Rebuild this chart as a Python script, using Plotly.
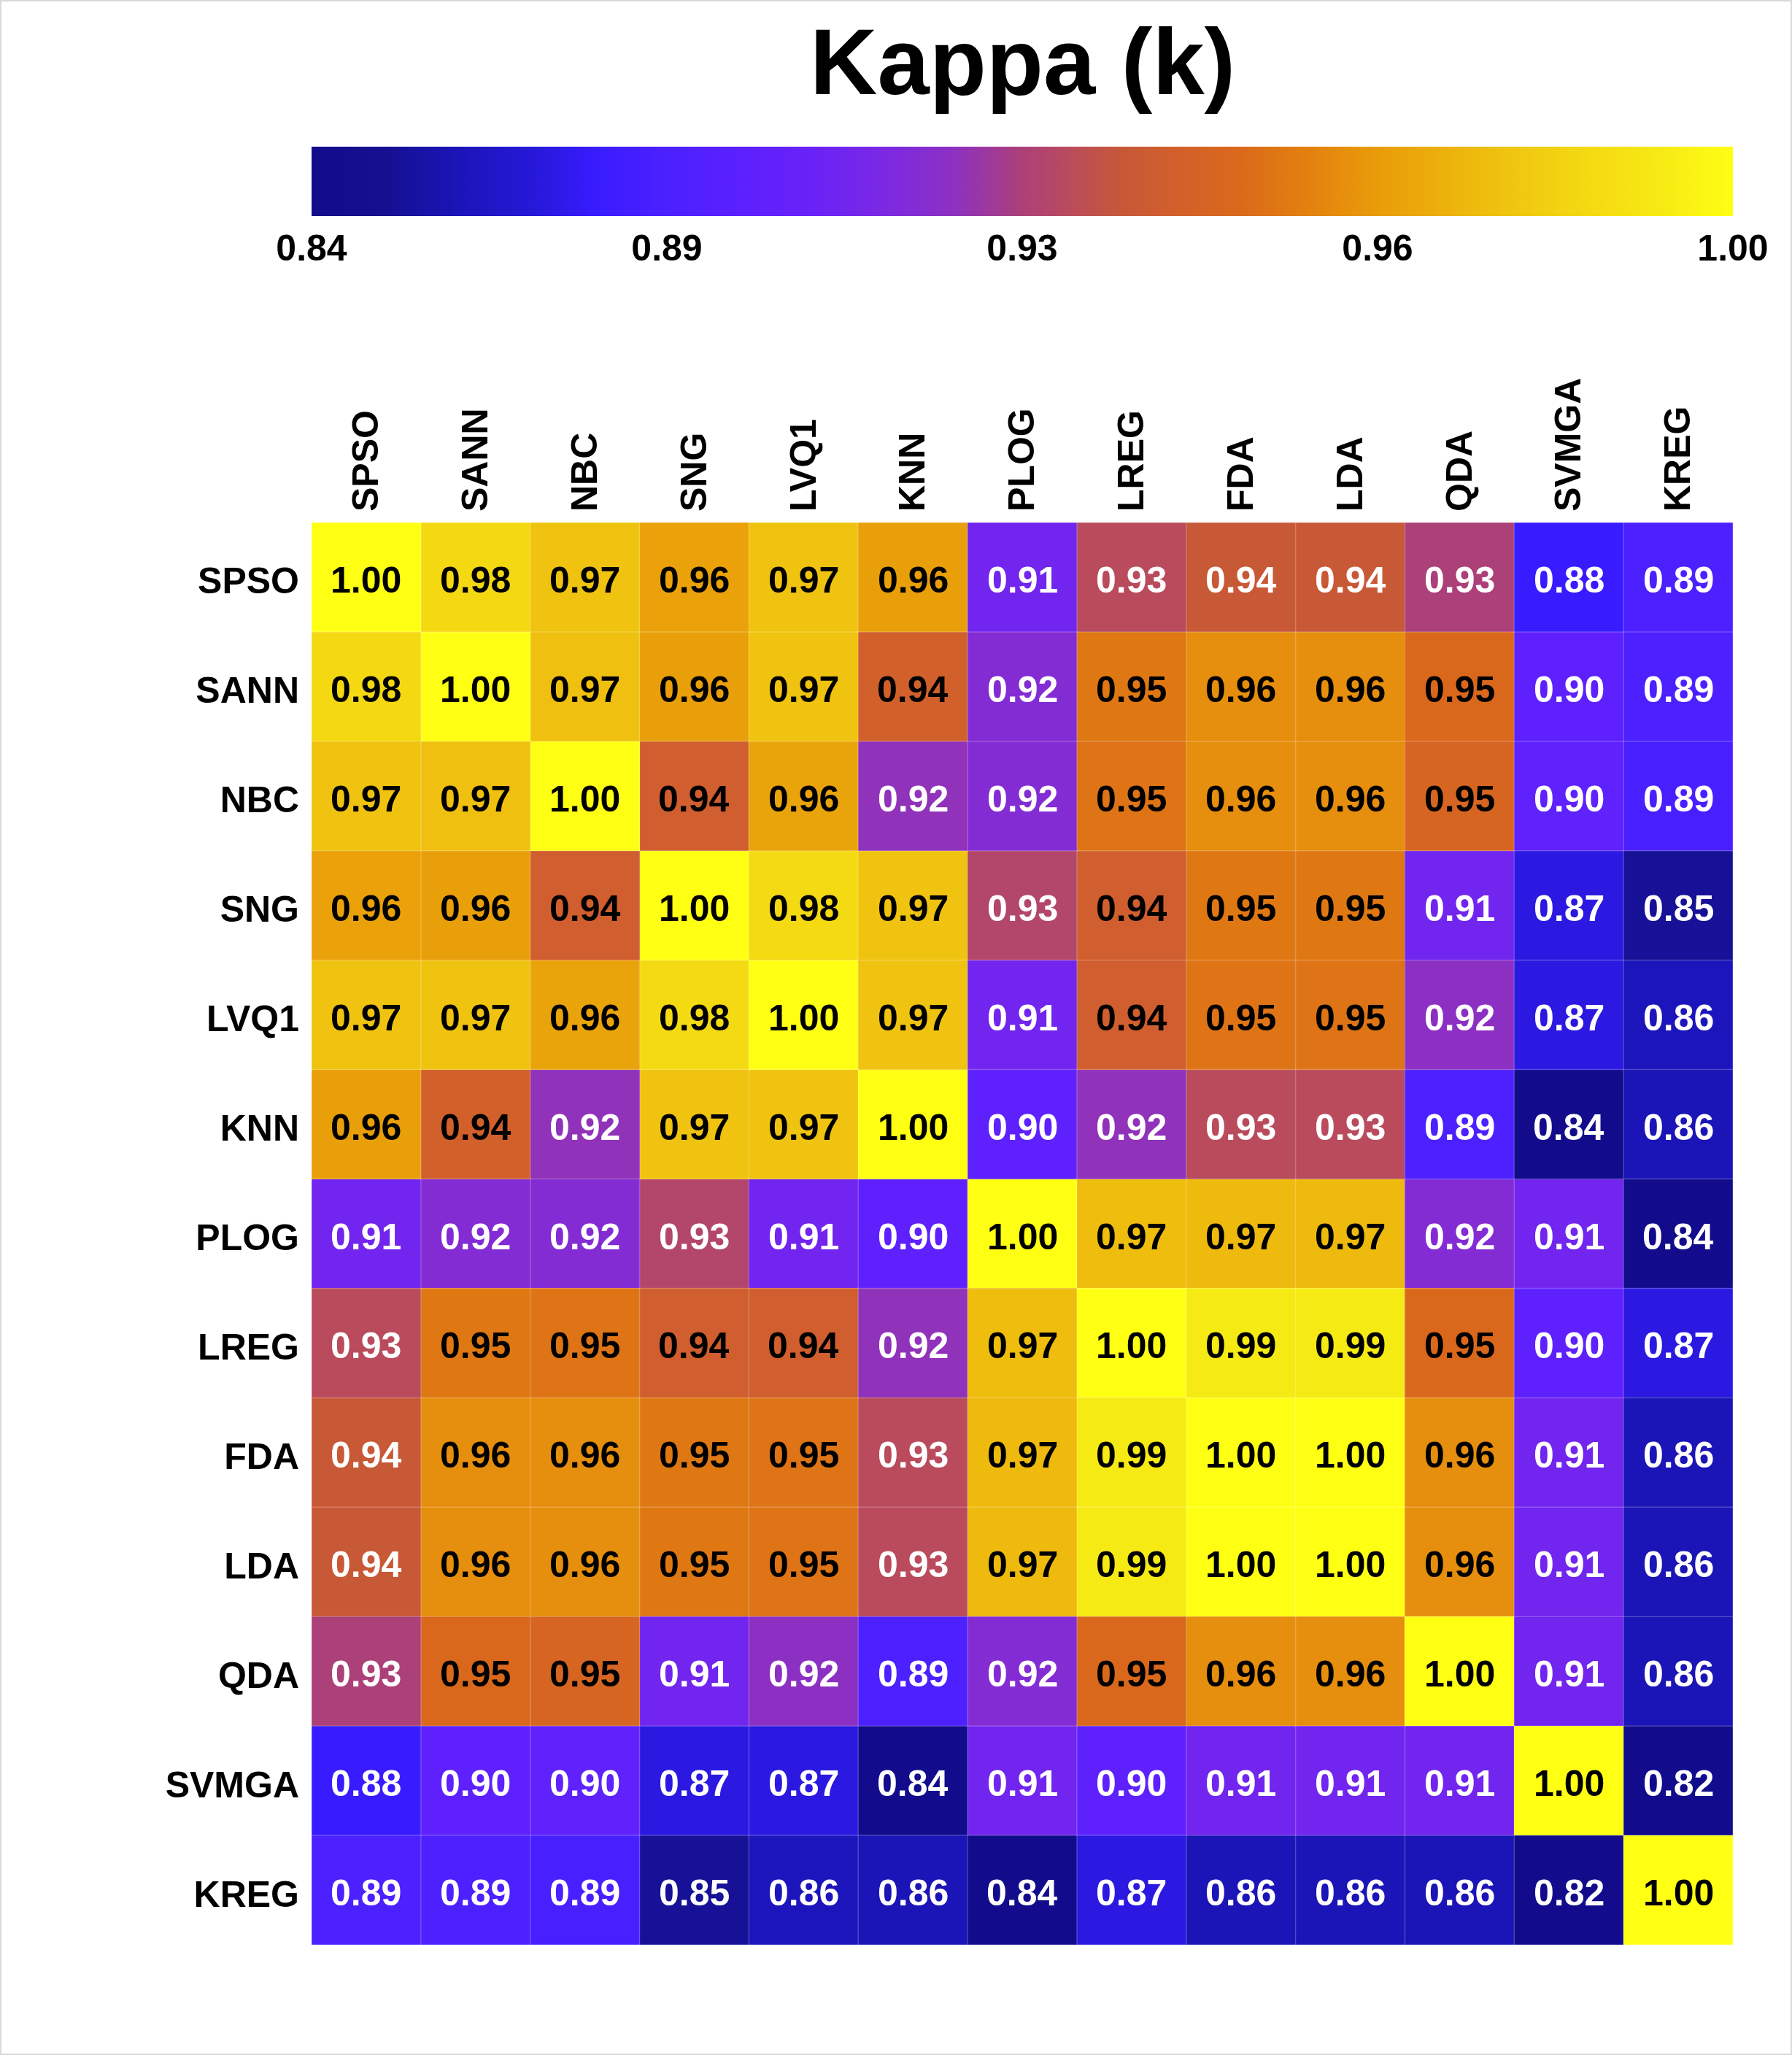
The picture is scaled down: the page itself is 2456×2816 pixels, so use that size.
import numpy as np
import plotly.graph_objects as go

# ---------------- data ----------------
models = ["SPSO", "SANN", "NBC", "SNG", "LVQ1", "KNN", "PLOG",
          "LREG", "FDA", "LDA", "QDA", "SVMGA", "KREG"]

row_SPSO  = [1.000, 0.983, 0.974, 0.962, 0.974, 0.961, 0.910, 0.934, 0.939, 0.939, 0.930, 0.880, 0.890]
row_SANN  = [0.983, 1.000, 0.973, 0.961, 0.974, 0.943, 0.918, 0.952, 0.957, 0.957, 0.948, 0.900, 0.890]
row_NBC   = [0.974, 0.973, 1.000, 0.942, 0.963, 0.923, 0.918, 0.951, 0.957, 0.957, 0.946, 0.901, 0.888]
row_SNG   = [0.962, 0.961, 0.942, 1.000, 0.984, 0.974, 0.932, 0.942, 0.952, 0.952, 0.910, 0.873, 0.852]
row_LVQ1  = [0.974, 0.974, 0.963, 0.984, 1.000, 0.974, 0.910, 0.942, 0.951, 0.951, 0.922, 0.873, 0.862]
row_KNN   = [0.961, 0.943, 0.923, 0.974, 0.974, 1.000, 0.900, 0.923, 0.934, 0.934, 0.890, 0.840, 0.860]
row_PLOG  = [0.910, 0.918, 0.918, 0.932, 0.910, 0.900, 1.000, 0.972, 0.971, 0.971, 0.918, 0.910, 0.840]
row_LREG  = [0.934, 0.952, 0.951, 0.942, 0.942, 0.923, 0.972, 1.000, 0.992, 0.992, 0.948, 0.900, 0.873]
row_FDA   = [0.939, 0.957, 0.957, 0.952, 0.951, 0.934, 0.971, 0.992, 1.000, 1.000, 0.957, 0.910, 0.860]
row_LDA   = [0.939, 0.957, 0.957, 0.952, 0.951, 0.934, 0.971, 0.992, 1.000, 1.000, 0.957, 0.910, 0.860]
row_QDA   = [0.930, 0.948, 0.946, 0.910, 0.922, 0.890, 0.918, 0.948, 0.957, 0.957, 1.000, 0.910, 0.860]
row_SVMGA = [0.880, 0.900, 0.901, 0.873, 0.873, 0.840, 0.910, 0.900, 0.910, 0.910, 0.910, 1.000, 0.820]
row_KREG  = [0.890, 0.890, 0.888, 0.852, 0.862, 0.860, 0.840, 0.873, 0.860, 0.860, 0.860, 0.820, 1.000]

# colour-scale breaks (shown as colour bar tick labels)
scale_breaks = [0.84, 0.89, 0.93, 0.96, 1.00]
scale_labels = ["0.84", "0.89", "0.93", "0.96", "1.00"]

title_text = "Kappa (k)"
# ---------------------------------------

kappa = np.array([row_SPSO, row_SANN, row_NBC, row_SNG, row_LVQ1, row_KNN, row_PLOG,
                  row_LREG, row_FDA, row_LDA, row_QDA, row_SVMGA, row_KREG])
n = len(models)

# piecewise-linear colour position from the breaks
pos = np.linspace(0, 1, len(scale_breaks))
zpos = np.interp(kappa, scale_breaks, pos)

colorscale = [
    [0.00, "#120c8c"], [0.05, "#15108f"], [0.10, "#1b14b6"], [0.15, "#2518d4"],
    [0.20, "#381cff"], [0.25, "#4c20ff"], [0.30, "#5a20ff"], [0.35, "#6822f8"],
    [0.40, "#7a28e4"], [0.45, "#8c30c4"], [0.50, "#ac4078"], [0.53, "#b84a60"],
    [0.57, "#c65838"], [0.60, "#d05e2e"], [0.65, "#da681c"], [0.70, "#e2800f"],
    [0.75, "#e99c0a"], [0.80, "#ecb20c"], [0.85, "#f0c810"], [0.90, "#f4da12"],
    [0.95, "#f6ea14"], [1.00, "#ffff14"],
]

W, H = 2456, 2816
ml, mr, mt, mb = 427, 81, 716, 151
pw, ph = W - ml - mr, H - mt - mb

FONT = "Liberation Sans, Arial, sans-serif"

fig = go.Figure()
fig.add_trace(go.Heatmap(
    z=zpos, x=models, y=models, zmin=0, zmax=1,
    colorscale=colorscale, zsmooth=False, hoverinfo="skip",
    colorbar=dict(
        orientation="h", x=0.5, xanchor="center", len=1.0, lenmode="fraction",
        xpad=0, ypad=0,
        y=1 + (mt - 352) / ph, yanchor="bottom", yref="paper",
        thickness=95, thicknessmode="pixels", outlinewidth=0,
        tickvals=list(pos), ticktext=scale_labels, ticks="",
        tickfont=dict(family=FONT, size=50, color="black", weight="bold"),
    ),
))

# cell labels (annotations anchored to the category axes)
annotations = []
for i, r in enumerate(models):
    for j, c in enumerate(models):
        v = kappa[i, j]
        annotations.append(dict(
            x=c, y=r, xref="x", yref="y", text=f"{v:.2f}", showarrow=False,
            xanchor="center", yanchor="middle", yshift=-4,
            font=dict(family=FONT, size=50, weight="bold",
                      color="black" if v >= 0.9405 else "white")))

annotations.append(dict(text=title_text, xref="paper", yref="paper", x=0.5, xanchor="center",
                        y=1 + (mt - 84) / ph, yanchor="middle", showarrow=False,
                        font=dict(family=FONT, size=128, color="black", weight="bold")))

# faint cell borders
shapes = []
for k in range(n + 1):
    b = k - 0.5
    shapes.append(dict(type="line", xref="x", yref="y", x0=b, x1=b, y0=-0.5, y1=n - 0.5,
                       line=dict(color="rgba(255,255,255,0.22)", width=1.5), layer="above"))
    shapes.append(dict(type="line", xref="x", yref="y", x0=-0.5, x1=n - 0.5, y0=b, y1=b,
                       line=dict(color="rgba(255,255,255,0.22)", width=1.5), layer="above"))
# light frame round the whole picture
shapes.append(dict(type="rect", xref="paper", yref="paper",
                   x0=-ml / pw + 0.0005, x1=1 + mr / pw - 0.0005,
                   y0=-mb / ph + 0.0005, y1=1 + mt / ph - 0.0005,
                   line=dict(color="#d9d9d9", width=2), layer="below"))

fig.update_layout(
    width=W, height=H,
    margin=dict(l=ml, r=mr, t=mt, b=mb, pad=0),
    paper_bgcolor="white", plot_bgcolor="white",
    shapes=shapes,
    showlegend=False,
    annotations=annotations,
)
fig.update_xaxes(side="top", tickangle=-90, showgrid=False, zeroline=False, showline=False,
                 ticks="", ticklabelstandoff=14, range=[-0.5, n - 0.5], automargin=False,
                 tickfont=dict(family=FONT, size=50, color="black", weight="bold"))
fig.update_yaxes(autorange=False, range=[n - 0.5, -0.5], showgrid=False, zeroline=False,
                 showline=False, ticks="", ticklabelstandoff=16, ticklabelshift=-5,
                 automargin=False,
                 tickfont=dict(family=FONT, size=50, color="black", weight="bold"))

fig.write_html("out.html", config={"displayModeBar": False},
               post_script="document.body.style.margin='0px';")
